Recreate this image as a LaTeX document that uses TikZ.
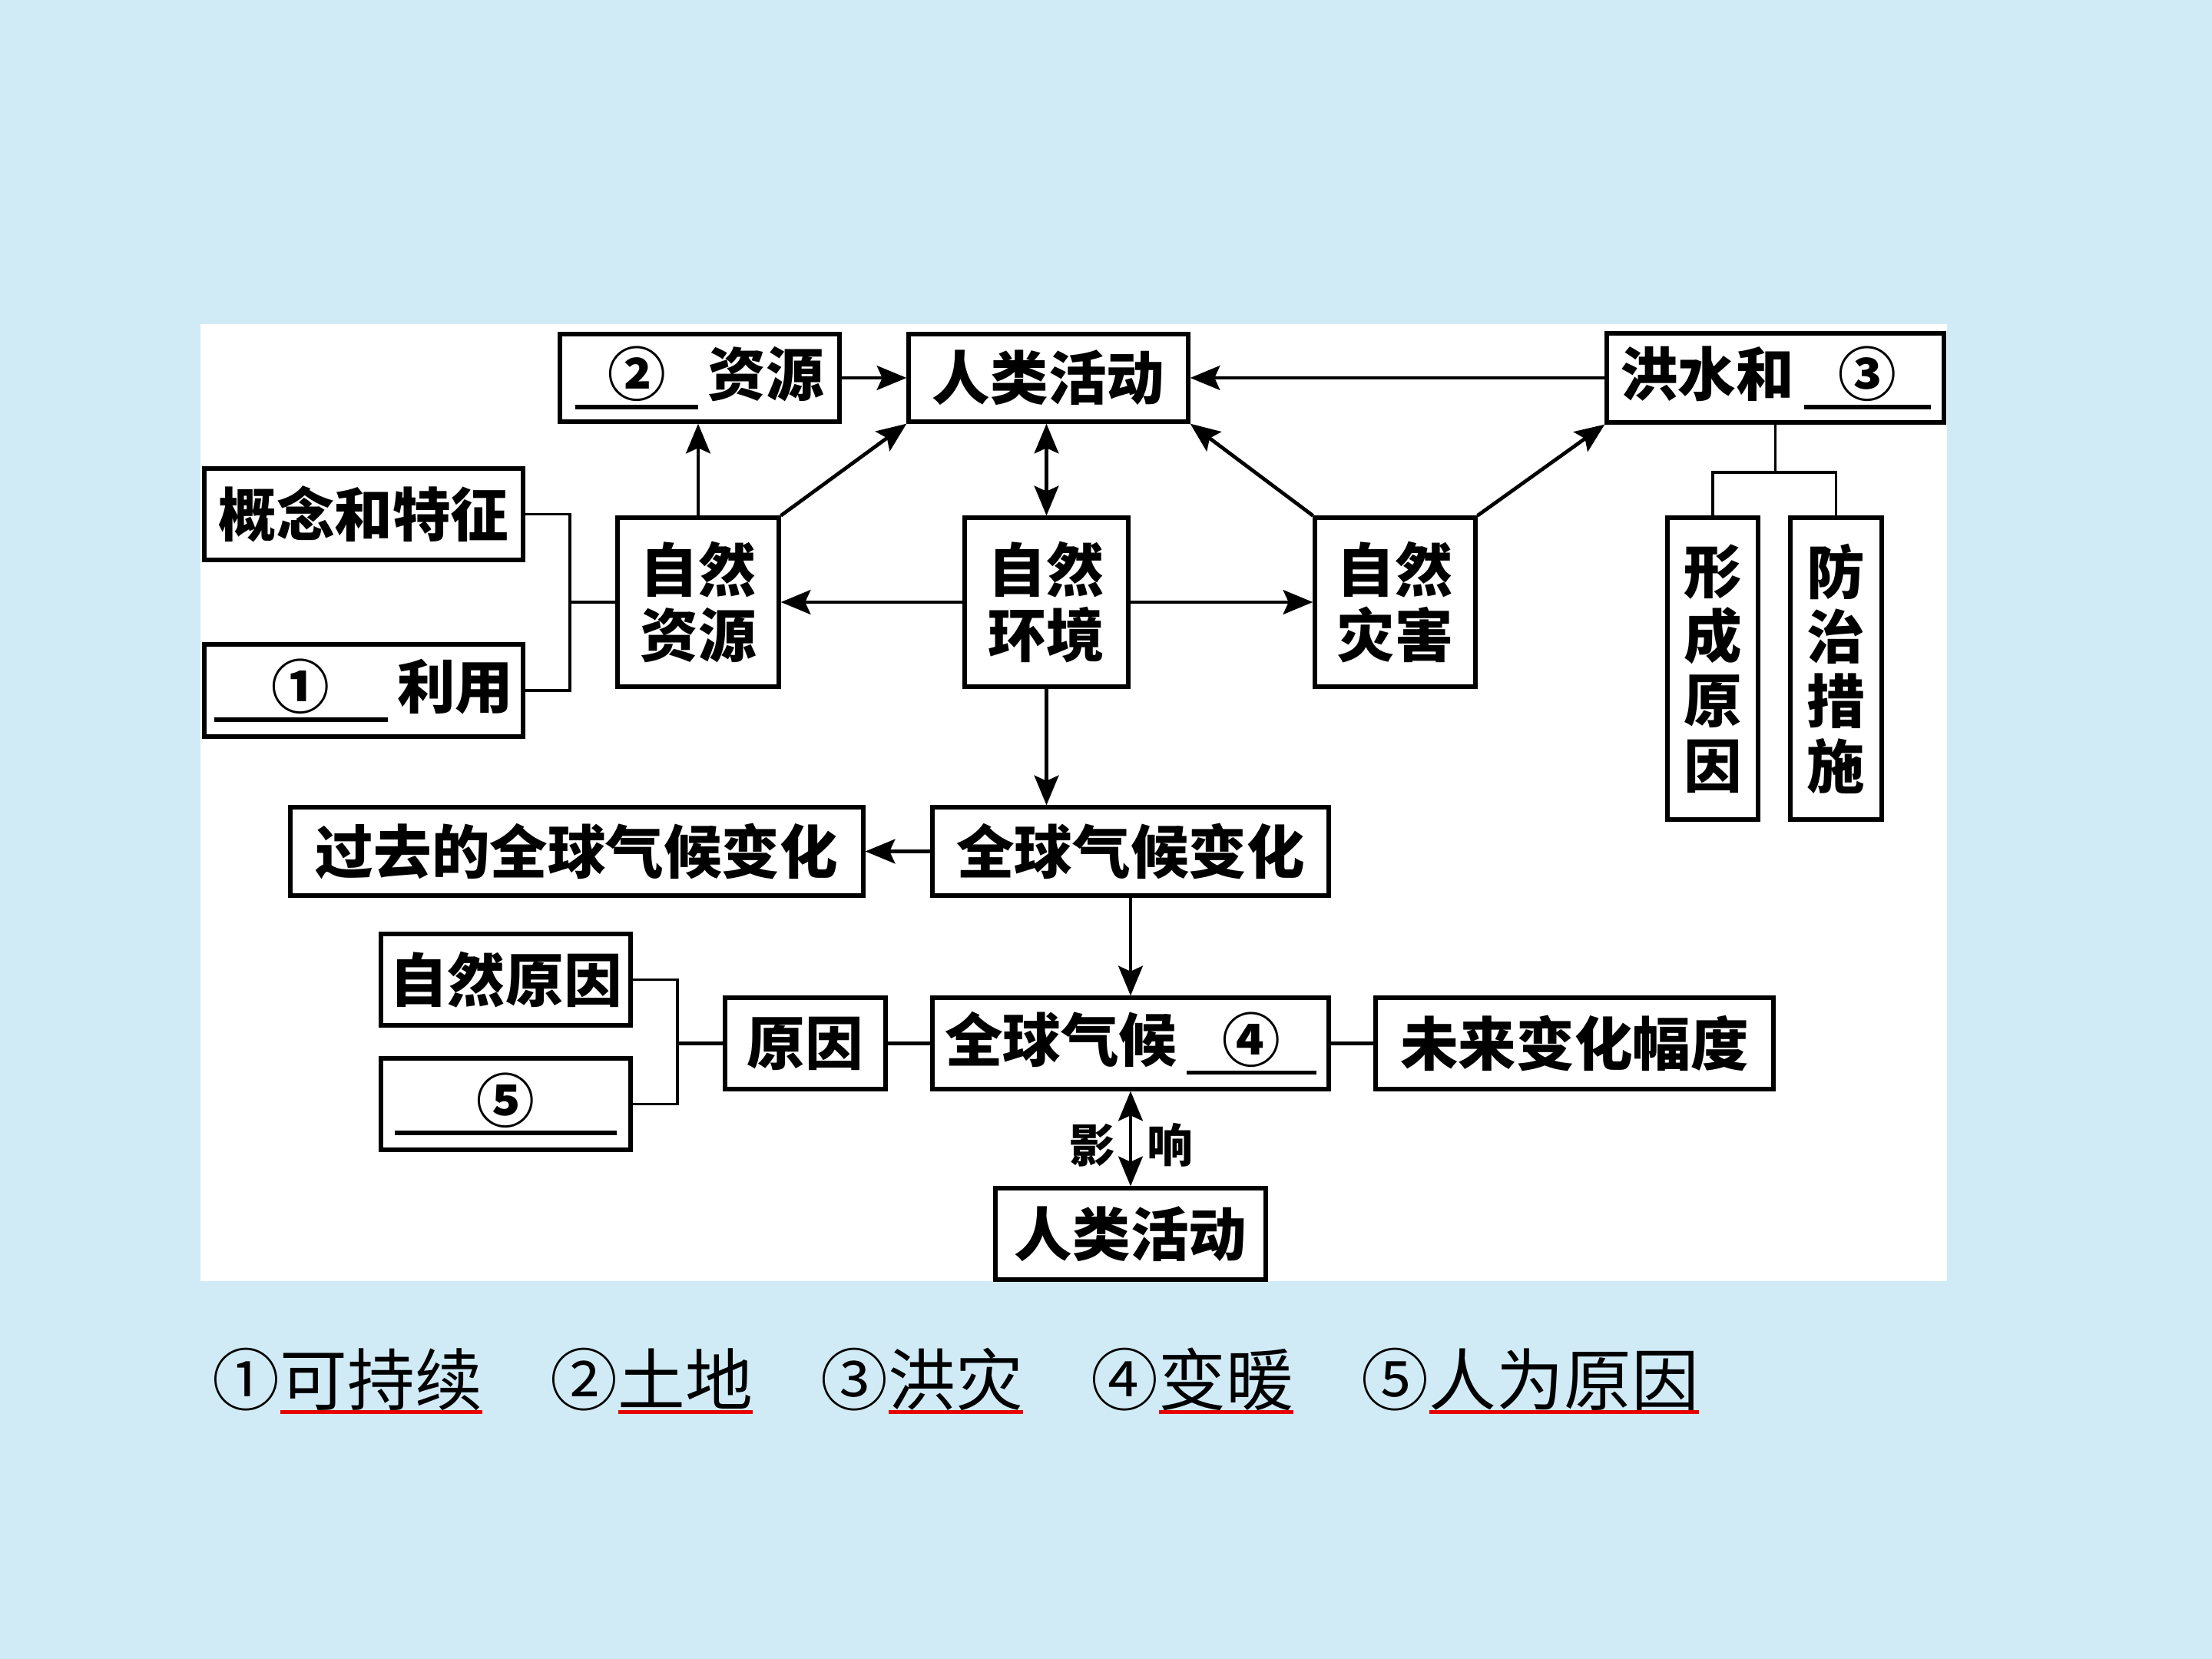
\documentclass[tikz,border=0pt]{standalone}
\usepackage{fontspec}
\setmainfont{Noto Sans CJK SC}
\usepackage{xcolor}
\usetikzlibrary{arrows.meta, positioning, calc}
\definecolor{bgblue}{RGB}{209,235,246}
\definecolor{ansred}{RGB}{232,0,0}
\newcommand{\blank}[2]{\makebox[#1]{#2}\llap{\rule[-0.22em]{#1}{1.6pt}}}
\newsavebox{\wordbox}
\newcommand{\redword}[1]{\sbox{\wordbox}{#1}\textcolor{ansred}{\rlap{\usebox{\wordbox}}\rule[-0.13em]{\wd\wordbox}{1.4pt}}}

\begin{document}
\begin{tikzpicture}[>={Stealth[length=11pt,width=9pt,inset=2pt]},
  box/.style={draw, line width=1.5pt, inner sep=0pt, align=center, font=\fontsize{21.5}{24}\selectfont\bfseries},
  con/.style={line width=1.35pt},
  brk/.style={line width=1.1pt},
  lbl/.style={inner sep=0pt, font=\fontsize{17}{20}\selectfont\bfseries},
  ans/.style={anchor=west, inner sep=0pt, font=\fontsize{25}{30}\selectfont}]
  \fill[bgblue] (0,0) rectangle (28.8,-21.6);
  \fill[white] (2.61,-4.22) rectangle (25.35,-16.68);
  \useasboundingbox (0,0) rectangle (28.8,-21.6);

  \node[box, minimum width=3.64cm, minimum height=1.14cm] (res2) at (9.11,-4.92) {\blank{1.6cm}{②}\,资源};
  \node[box, minimum width=3.64cm, minimum height=1.14cm] (hum) at (13.65,-4.92) {人类活动};
  \node[box, minimum width=4.39cm, minimum height=1.16cm] (flood) at (23.115,-4.92) {洪水和\,\blank{1.65cm}{③}};
  \node[box, minimum width=4.15cm, minimum height=1.19cm] (concept) at (4.735,-6.695) {概念和特征};
  \node[box, minimum width=4.15cm, minimum height=1.2cm] (use1) at (4.735,-8.99) {\blank{2.26cm}{①}\,利用};
  \node[box, minimum width=2.1cm, minimum height=2.2cm] (natres) at (9.09,-7.84) {自然\\资源};
  \node[box, minimum width=2.13cm, minimum height=2.2cm] (natenv) at (13.625,-7.84) {自然\\环境};
  \node[box, minimum width=2.09cm, minimum height=2.2cm] (natdis) at (18.165,-7.84) {自然\\灾害};
  \node[box, minimum width=1.18cm, minimum height=3.93cm] (form) at (22.3,-8.705) {形\\成\\原\\因};
  \node[box, minimum width=1.19cm, minimum height=3.93cm] (prev) at (23.905,-8.705) {防\\治\\措\\施};
  \node[box, minimum width=7.46cm, minimum height=1.15cm] (past) at (7.51,-11.085) {过去的全球气候变化};
  \node[box, minimum width=5.16cm, minimum height=1.15cm] (gcc) at (14.72,-11.085) {全球气候变化};
  \node[box, minimum width=3.25cm, minimum height=1.19cm] (natcause) at (6.585,-12.755) {自然原因};
  \node[box, minimum width=3.25cm, minimum height=1.19cm] (cause5) at (6.585,-14.375) {\blank{2.89cm}{⑤}};
  \node[box, minimum width=2.09cm, minimum height=1.19cm] (cause) at (10.485,-13.585) {原因};
  \node[box, minimum width=5.16cm, minimum height=1.19cm] (warm4) at (14.72,-13.585) {全球气候\,\blank{1.69cm}{④}};
  \node[box, minimum width=5.18cm, minimum height=1.19cm] (future) at (20.5,-13.585) {未来变化幅度};
  \node[box, minimum width=3.52cm, minimum height=1.19cm] (hum2) at (14.72,-16.065) {人类活动};
  \node[lbl] (ying) at (14.22,-14.91) {影};
  \node[lbl] (xiang) at (15.23,-14.91) {响};

  \coordinate (j1) at (7.42,-7.84);
  \coordinate (j2) at (23.115,-6.15);
  \coordinate (j3) at (8.82,-13.585);

  \draw[con,->] (res2) -- (hum);
  \draw[con,->] (natres.north) -- (natres.north |- res2.south);
  \draw[con,->] (natres.north east) -- (hum.south west);
  \draw[con,<->] (natenv.north) -- (natenv.north |- hum.south);
  \draw[con,->] (flood) -- (hum);
  \draw[con,->] (natdis.north west) -- (hum.south east);
  \draw[con,->] (natdis.north east) -- (flood.south west);
  \draw[con,->] (natenv) -- (natres);
  \draw[con,->] (natenv) -- (natdis);
  \draw[brk] (concept.east) -| (j1) |- (use1.east);
  \draw[con] (j1) -- (natres.west);
  \draw[brk] (flood.south) -- (j2);
  \draw[brk] (form.north) |- (j2) -| (prev.north);
  \draw[con,->] (natenv.south) -- (natenv.south |- gcc.north);
  \draw[con,->] (gcc) -- (past);
  \draw[con,->] (gcc) -- (warm4);
  \draw[con] (warm4) -- (cause);
  \draw[con] (warm4) -- (future);
  \draw[brk] (natcause.east) -| (j3) |- (cause5.east);
  \draw[con] (j3) -- (cause.west);
  \draw[con,<->] (warm4) -- (hum2);

  \foreach \n/\w/\x [count=\i] in {①/可持续/2.76, ②/土地/7.16, ③/洪灾/10.68, ④/变暖/14.2, ⑤/人为原因/17.72} {
    \node[ans] (a\i) at (\x,-17.98) {\n\redword{\w}};
  }
\end{tikzpicture}
\end{document}
